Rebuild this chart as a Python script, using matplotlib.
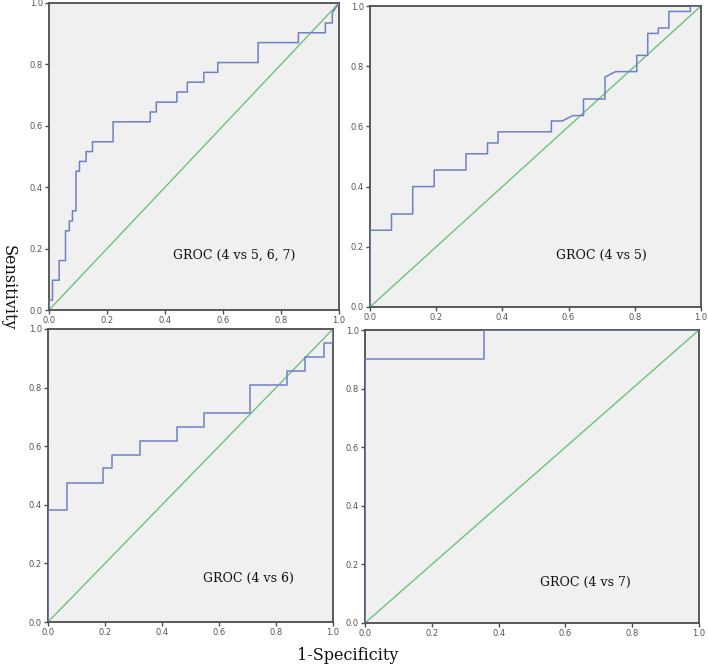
import matplotlib
matplotlib.use("Agg")
import matplotlib.pyplot as plt

# ---- data ----
# Panel 1: GROC (4 vs 5, 6, 7)
fpr1 = [0.0, 0.0, 0.012, 0.012, 0.035, 0.035, 0.057, 0.057, 0.070, 0.070, 0.081, 0.081,
        0.093, 0.093, 0.105, 0.105, 0.128, 0.128, 0.150, 0.150, 0.221, 0.221, 0.349, 0.349,
        0.370, 0.370, 0.441, 0.441, 0.477, 0.477, 0.534, 0.534, 0.582, 0.582, 0.721, 0.721,
        0.860, 0.860, 0.953, 0.953, 0.977, 0.977, 1.0]
tpr1 = [0.0, 0.032, 0.032, 0.097, 0.097, 0.161, 0.161, 0.258, 0.258, 0.290, 0.290, 0.323,
        0.323, 0.452, 0.452, 0.484, 0.484, 0.516, 0.516, 0.548, 0.548, 0.613, 0.613, 0.645,
        0.645, 0.677, 0.677, 0.710, 0.710, 0.742, 0.742, 0.774, 0.774, 0.806, 0.806, 0.871,
        0.871, 0.903, 0.903, 0.935, 0.935, 0.968, 1.0]

# Panel 2: GROC (4 vs 5)
fpr2 = [0.0, 0.0, 0.065, 0.065, 0.129, 0.129, 0.194, 0.194, 0.290, 0.290, 0.355, 0.355,
        0.387, 0.387, 0.548, 0.548, 0.581, 0.613, 0.645, 0.645, 0.710, 0.710, 0.742, 0.806,
        0.806, 0.839, 0.839, 0.871, 0.871, 0.903, 0.903, 0.968, 0.968, 1.0]
tpr2 = [0.0, 0.255, 0.255, 0.309, 0.309, 0.400, 0.400, 0.455, 0.455, 0.509, 0.509, 0.545,
        0.545, 0.582, 0.582, 0.618, 0.618, 0.636, 0.636, 0.691, 0.691, 0.764, 0.782, 0.782,
        0.836, 0.836, 0.909, 0.909, 0.927, 0.927, 0.982, 0.982, 1.0, 1.0]

# Panel 3: GROC (4 vs 6)
fpr3 = [0.0, 0.0, 0.065, 0.065, 0.194, 0.194, 0.226, 0.226, 0.323, 0.323, 0.452, 0.452,
        0.548, 0.548, 0.710, 0.710, 0.839, 0.839, 0.903, 0.903, 0.968, 0.968, 1.0, 1.0]
tpr3 = [0.0, 0.381, 0.381, 0.476, 0.476, 0.524, 0.524, 0.571, 0.571, 0.619, 0.619, 0.667,
        0.667, 0.714, 0.714, 0.810, 0.810, 0.857, 0.857, 0.905, 0.905, 0.952, 0.952, 1.0]

# Panel 4: GROC (4 vs 7)
fpr4 = [0.0, 0.0, 0.355, 0.355, 1.0]
tpr4 = [0.0, 0.900, 0.900, 1.0, 1.0]

labels = ["GROC (4 vs 5, 6, 7)", "GROC (4 vs 5)", "GROC (4 vs 6)", "GROC (4 vs 7)"]
ticks = [0.0, 0.2, 0.4, 0.6, 0.8, 1.0]
tick_labels = ["0.0", "0.2", "0.4", "0.6", "0.8", "1.0"]

# ---- layout / style ----
W, H = 708, 667
fig = plt.figure(figsize=(W / 100, H / 100), dpi=100)
fig.patch.set_facecolor("white")

def box(x0, y0, x1, y1):
    return [x0 / W, 1 - y1 / H, (x1 - x0) / W, (y1 - y0) / H]

rects = [box(49, 3, 339, 310), box(370, 6, 701, 307),
         box(48, 329, 333, 622), box(365, 330, 699, 623)]
label_pos = [(0.428, 0.178), (0.562, 0.172), (0.544, 0.147), (0.524, 0.140)]
curves = [(fpr1, tpr1), (fpr2, tpr2), (fpr3, tpr3), (fpr4, tpr4)]

blue = "#6f80c4"
green = "#6cc47a"
spine_c = "#4d4d4d"

for rect, (fx, ty), lab, lp in zip(rects, curves, labels, label_pos):
    ax = fig.add_axes(rect)
    ax.set_facecolor("#f0f0f0")
    ax.plot([0, 1], [0, 1], color=green, lw=1.0, zorder=2)
    ax.plot(fx, ty, color=blue, lw=1.1, zorder=3)
    ax.set_xlim(0, 1)
    ax.set_ylim(0, 1)
    ax.set_xticks(ticks)
    ax.set_xticklabels(tick_labels)
    ax.set_yticks(ticks)
    ax.set_yticklabels(tick_labels)
    ax.tick_params(direction="out", length=3, width=1, colors=spine_c,
                   labelsize=6, labelcolor="#555555", pad=1.5)
    for s in ax.spines.values():
        s.set_color(spine_c)
        s.set_linewidth(1.3)
    ax.text(lp[0], lp[1], lab, transform=ax.transAxes, fontsize=9,
            family="DejaVu Serif", color="#111111", va="center", ha="left")

fig.text(8 / W, 1 - 288 / H, "Sensitivity", rotation=270, fontsize=11.5,
         family="DejaVu Serif", ha="center", va="center", color="#111111")
fig.text(348 / W, 1 - 655 / H, "1-Specificity", fontsize=11.5,
         family="DejaVu Serif", ha="center", va="center", color="#111111")

fig.savefig("out.png", dpi=100)
